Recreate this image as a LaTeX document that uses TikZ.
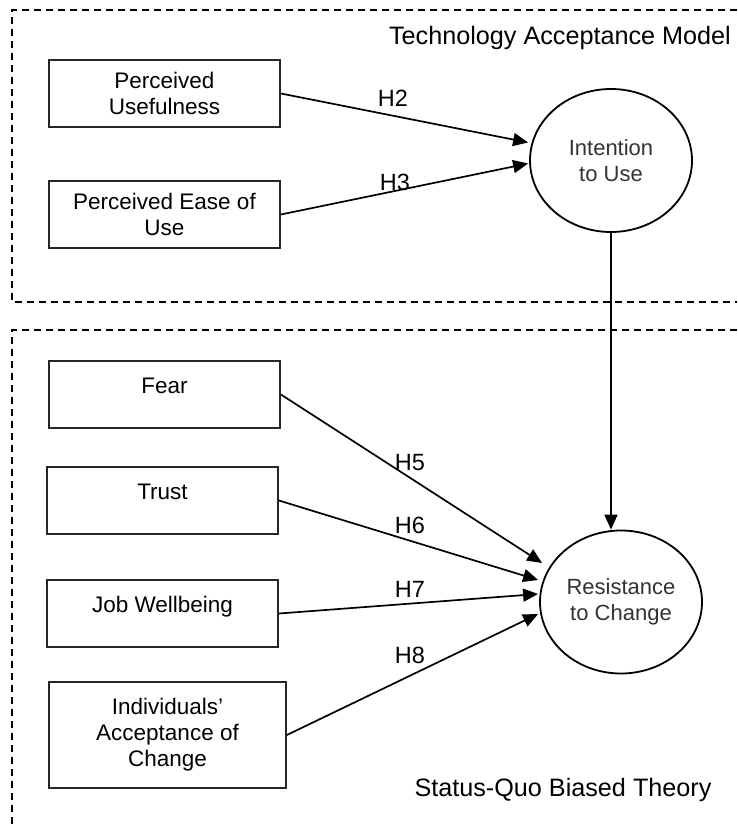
\documentclass[tikz,border=0pt]{standalone}
\usepackage{fontspec}
\setmainfont{Liberation Sans}
\usetikzlibrary{shapes.geometric,arrows.meta}

\begin{document}
\begin{tikzpicture}[x=1pt,y=-1pt,
		box/.style={draw=black!85,line width=1.8pt,minimum width=231pt,minimum height=67pt,inner sep=0pt,align=center,font=\fontsize{22.5}{26}\selectfont},
		single/.style={text height=16pt,text depth=19pt},
		var/.style={draw,ellipse,line width=1.8pt,minimum width=162pt,minimum height=143pt,inner sep=0pt,align=center,text=black!80,font=\fontsize{22}{26}\selectfont},
		hpath/.style={line width=1.7pt,-{Triangle[length=15pt,width=13pt]}},
		hyp/.style={inner sep=0pt,font=\fontsize{23.5}{26}\selectfont},
		theory/.style={anchor=base,inner sep=0pt,font=\fontsize{25.2}{28}\selectfont},
		frame/.style={line width=1.4pt,dash pattern=on 7pt off 5pt}]
		\useasboundingbox (0,0) rectangle (737,824);
		\draw[frame] (737,10) -- (12,10) -- (12,302) -- (737,302);
		\draw[frame] (737,330) -- (12,330) -- (12,824);
		\node[theory] (tam) at (560,45) {Technology Acceptance Model};
		\node[theory] (sqb) at (563,796) {Status-Quo Biased Theory};
		\node[box] (pu) at (164.5,93.5) {Perceived\\Usefulness};
		\node[box] (peou) at (164.5,214.5) {Perceived Ease of\\Use};
		\node[box,single] (fear) at (164.5,394.5) {Fear};
		\node[box,single] (trust) at (162.5,500.5) {Trust};
		\node[box,single] (jw) at (162.5,613.5) {Job Wellbeing};
		\node[box,minimum width=237pt,minimum height=106pt] (iac) at (167.5,735) {Individuals'\\Acceptance of\\Change};
		\node[var] (itu) at (611,160.5) {Intention\\to Use};
		\node[var] (rtc) at (621,602) {Resistance\\to Change};
		\draw[hpath] (pu.east) -- ([shift={(-1,-18)}]itu.west);
		\draw[hpath] (peou.east) -- ([shift={(-1,3)}]itu.west);
		\draw[hpath] (itu.south) -- (itu.south |- rtc.north);
		\draw[hpath] (fear.east) -- ([shift={(3,-39)}]rtc.west);
		\draw[hpath] (trust.east) -- ([shift={(-1,-22)}]rtc.west);
		\draw[hpath] (jw.east) -- ([shift={(-1,-8)}]rtc.west);
		\draw[hpath] (iac.east) -- ([shift={(-1,12)}]rtc.west);
		\node[hyp] (h2) at (393,98) {H2};
		\node[hyp] (h3) at (395,182) {H3};
		\node[hyp] (h5) at (410,463) {H5};
		\node[hyp] (h6) at (410,525) {H6};
		\node[hyp] (h7) at (410,589) {H7};
		\node[hyp] (h8) at (410,655) {H8};
	\end{tikzpicture}
\end{document}
